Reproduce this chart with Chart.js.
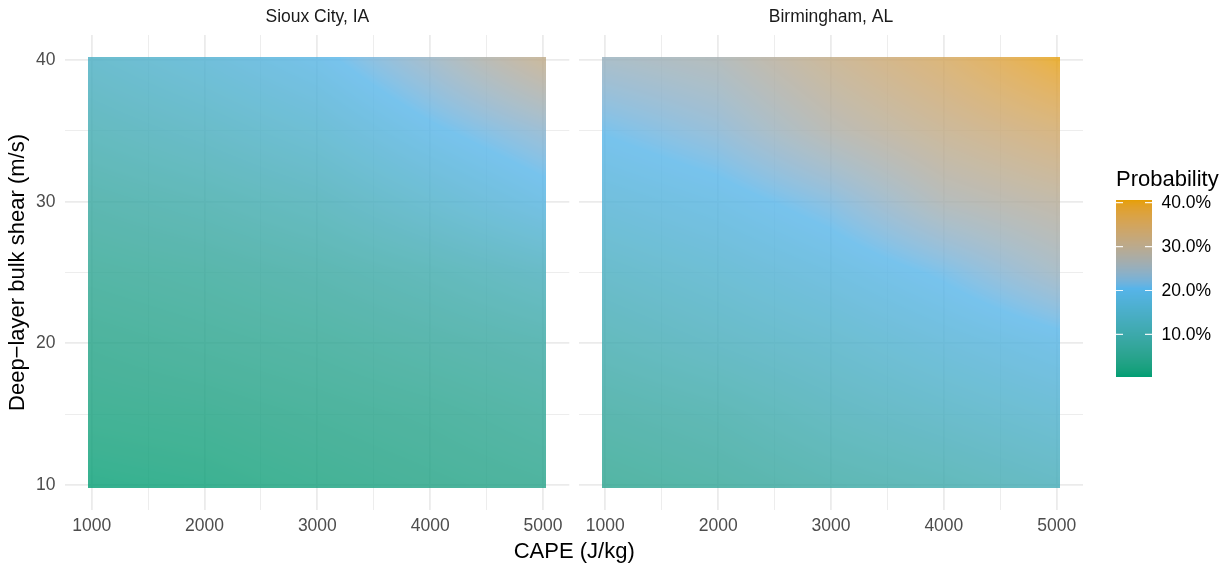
<!DOCTYPE html>
<html><head><meta charset="utf-8">
<script src="https://cdn.jsdelivr.net/npm/chart.js@4.4.1/dist/chart.umd.min.js"></script>
<style>
html,body{margin:0;padding:0;background:#fff;}
#wrap{position:relative;width:1232px;height:568px;overflow:hidden;}
#wrap canvas{position:absolute;left:0;top:0;}
</style></head><body>
<div id="wrap"><canvas id="c1" width="1232" height="568"></canvas><canvas id="c2" width="1232" height="568"></canvas></div>
<script>
// ---------------- data ----------------
const panelTitles = ['Sioux City, IA', 'Birmingham, AL'];
const capeValues = [1000, 2000, 3000, 4000, 5000];          // columns
const shearValues = [40, 35, 30, 25, 20, 15, 10];           // rows (top to bottom)
// probability (%) at each (shear row, CAPE column)
const siouxCityProb = [
  [14.0, 16.5, 19.5, 24.5, 30.5],
  [11.0, 13.0, 15.5, 19.8, 23.5],
  [ 8.0,  9.5, 11.5, 15.0, 18.8],
  [ 5.5,  6.5,  8.0, 10.0, 12.5],
  [ 3.5,  4.5,  5.5,  7.0,  8.5],
  [ 2.0,  2.5,  3.5,  4.5,  6.0],
  [ 0.5,  1.0,  2.0,  3.0,  4.0]
];
const birminghamProb = [
  [25.0, 26.5, 31.0, 35.0, 40.3],
  [20.7, 23.0, 27.5, 31.0, 34.0],
  [17.0, 19.0, 22.0, 26.8, 29.0],
  [13.5, 15.5, 18.0, 21.0, 25.0],
  [10.5, 12.5, 14.5, 17.0, 19.3],
  [ 7.5,  9.0, 11.5, 13.5, 15.5],
  [ 5.0,  6.5,  8.5, 10.0, 12.0]
];
const rasterCapeExtent = [970, 5030];
const rasterShearExtent = [9.75, 40.25];
const xLimits = [767, 5233];
const yLimits = [8.225, 41.775];
const xTickLabels = [1000, 2000, 3000, 4000, 5000];
const xGridValues = [1000, 1500, 2000, 2500, 3000, 3500, 4000, 4500, 5000];
const yTickLabels = [10, 20, 30, 40];
const yGridValues = [10, 15, 20, 25, 30, 35, 40];
const legendBreaks = [10, 20, 30, 40];
const colourLimits = [0.3, 40.6];
const paletteColours = ['#009E73', '#56B4E9', '#E69F00'];

// ---------------- colour scale (Lab interpolation) ----------------
function hexToRgb(h){return [parseInt(h.slice(1,3),16),parseInt(h.slice(3,5),16),parseInt(h.slice(5,7),16)];}
function s2l(c){c/=255;return c<=0.04045?c/12.92:Math.pow((c+0.055)/1.055,2.4);}
function l2s(c){c=c<=0.0031308?12.92*c:1.055*Math.pow(Math.max(c,0),1/2.4)-0.055;return Math.max(0,Math.min(255,Math.round(c*255)));}
const Xn=0.95047,Yn=1,Zn=1.08883;
function ff(t){return t>0.008856?Math.cbrt(t):7.787*t+16/116;}
function fi(t){return t>0.206893?t*t*t:(t-16/116)/7.787;}
function rgbToLab(rgb){const [r,g,b]=rgb.map(s2l);const X=0.4124*r+0.3576*g+0.1805*b,Y=0.2126*r+0.7152*g+0.0722*b,Z=0.0193*r+0.1192*g+0.9505*b;const fx=ff(X/Xn),fy=ff(Y/Yn),fz=ff(Z/Zn);return [116*fy-16,500*(fx-fy),200*(fy-fz)];}
function labToRgb(lab){const fy=(lab[0]+16)/116,fx=fy+lab[1]/500,fz=fy-lab[2]/200;const X=Xn*fi(fx),Y=Yn*fi(fy),Z=Zn*fi(fz);return [l2s(3.2406*X-1.5372*Y-0.4986*Z),l2s(-0.9689*X+1.8758*Y+0.0415*Z),l2s(0.0557*X-0.2040*Y+1.0570*Z)];}
const labStops = paletteColours.map(h=>rgbToLab(hexToRgb(h)));
const LUTN = 1024;
const lut = [];
for (let i=0;i<LUTN;i++){
  const t=i/(LUTN-1); const seg=(labStops.length-1)*t; const k=Math.min(Math.floor(seg),labStops.length-2); const w=seg-k;
  const a=labStops[k], b=labStops[k+1];
  lut.push(labToRgb([a[0]+(b[0]-a[0])*w,a[1]+(b[1]-a[1])*w,a[2]+(b[2]-a[2])*w]));
}
function colourFor(v){
  let t=(v-colourLimits[0])/(colourLimits[1]-colourLimits[0]); t=Math.max(0,Math.min(1,t));
  return lut[Math.round(t*(LUTN-1))];
}
function fracIndex(arr, v){
  const n=arr.length; const f=(v-arr[0])/(arr[1]-arr[0]);
  return Math.max(0,Math.min(n-1,f));
}

// ---------------- plugins ----------------
const FONT = "'Liberation Sans', Arial, Helvetica, sans-serif";
Chart.defaults.font.family = FONT;

const rasterPlugin = {
  id: 'raster',
  beforeDatasetsDraw(chart){
    const xs=chart.scales.x, ys=chart.scales.y;
    const m = chart.config.options.plugins.raster.matrix;
    const L=Math.round(xs.getPixelForValue(rasterCapeExtent[0])), R=Math.round(xs.getPixelForValue(rasterCapeExtent[1]));
    const T=Math.round(ys.getPixelForValue(rasterShearExtent[1])), B=Math.round(ys.getPixelForValue(rasterShearExtent[0]));
    const W=R-L, H=B-T;
    const off=document.createElement('canvas'); off.width=W; off.height=H;
    const octx=off.getContext('2d'); const img=octx.createImageData(W,H);
    const nr=shearValues.length, nc=capeValues.length;
    const colF=[]; for(let px=0;px<W;px++){colF.push(fracIndex(capeValues, xs.getValueForPixel(L+px+0.5)));}
    for(let py=0;py<H;py++){
      const rf=fracIndex(shearValues, ys.getValueForPixel(T+py+0.5));
      const r0=Math.floor(rf), r1=Math.min(r0+1,nr-1), wr=rf-r0;
      for(let px=0;px<W;px++){
        const cf=colF[px]; const c0=Math.floor(cf), c1=Math.min(c0+1,nc-1), wc=cf-c0;
        const v=(m[r0][c0]*(1-wc)+m[r0][c1]*wc)*(1-wr)+(m[r1][c0]*(1-wc)+m[r1][c1]*wc)*wr;
        const c=colourFor(v); const o=(py*W+px)*4;
        img.data[o]=c[0]; img.data[o+1]=c[1]; img.data[o+2]=c[2]; img.data[o+3]=255;
      }
    }
    octx.putImageData(img,0,0);
    const ctx=chart.ctx; ctx.save(); ctx.globalAlpha=0.8; ctx.drawImage(off,L,T); ctx.restore();
  }
};

const stripPlugin = {
  id: 'strip',
  afterDraw(chart){
    const o=chart.config.options.plugins.strip; const ca=chart.chartArea; const ctx=chart.ctx;
    ctx.save(); ctx.font="17.5px "+FONT; ctx.fillStyle='#1A1A1A'; ctx.textAlign='center'; ctx.textBaseline='middle';
    ctx.fillText(o.text,(ca.left+ca.right)/2,17.5); ctx.restore();
  }
};

const sharedPlugin = {
  id: 'shared',
  afterDraw(chart){
    const o=chart.config.options.plugins.shared; if(!o.enabled) return;
    const ctx=chart.ctx; const left=window.chartA.chartArea.left, right=chart.chartArea.right;
    ctx.save();
    // x-axis title
    ctx.font="22px "+FONT; ctx.fillStyle='#000'; ctx.textAlign='center'; ctx.textBaseline='middle';
    ctx.fillText('CAPE (J/kg)',(left+right)/2,552);
    // colour bar legend
    const bl=1116, br=1152, bt=200, bb=377;
    const lo=colourLimits[0], hi=colourLimits[1];
    for(let y=bt;y<bb;y++){
      const v=hi-(y+0.5-bt)/(bb-bt)*(hi-lo); const c=colourFor(v);
      ctx.fillStyle='rgb('+c[0]+','+c[1]+','+c[2]+')'; ctx.fillRect(bl,y,br-bl,1);
    }
    ctx.strokeStyle='rgba(255,255,255,0.9)'; ctx.lineWidth=1.2;
    ctx.font="17.5px "+FONT; ctx.fillStyle='#000'; ctx.textAlign='left';
    legendBreaks.forEach(b=>{
      const y=bb-(b-lo)/(hi-lo)*(bb-bt);
      ctx.beginPath(); ctx.moveTo(bl,y); ctx.lineTo(bl+7,y); ctx.moveTo(br-7,y); ctx.lineTo(br,y); ctx.stroke();
      ctx.fillText(b.toFixed(1)+'%',1161.5,y+0.5);
    });
    ctx.font="22px "+FONT; ctx.fillText('Probability',1116,180);
    ctx.restore();
  }
};

function makeChart(id, idx, matrix, isLeft){
  const pts=[];
  shearValues.forEach((s,r)=>capeValues.forEach((c,k)=>pts.push({x:c,y:s,v:matrix[r][k]})));
  const gridCol = '#EBEBEB';
  return new Chart(document.getElementById(id), {
    type:'scatter',
    data:{datasets:[{label:panelTitles[idx],data:pts,pointRadius:0,pointHoverRadius:0}]},
    options:{
      responsive:false, animation:false, devicePixelRatio:1,
      events:[],
      layout:{padding:{left:0,top:35,bottom:0,right:isLeft?1232-569.3:1232-1083}},
      plugins:{legend:{display:false},tooltip:{enabled:false},title:{display:false},
        raster:{matrix:matrix}, strip:{text:panelTitles[idx]}, shared:{enabled:!isLeft}},
      scales:{
        x:{type:'linear',min:xLimits[0],max:xLimits[1],
          afterBuildTicks:s=>{s.ticks=xGridValues.map(v=>({value:v}));},
          afterFit:s=>{s.height=58;},
          border:{display:false},
          grid:{drawTicks:false,color:gridCol,lineWidth:c=>(xTickLabels.includes(c.tick&&c.tick.value)?1.8:0.9)},
          ticks:{autoSkip:false,maxRotation:0,minRotation:0,padding:6,color:'#4D4D4D',font:{size:17.5},
            callback:v=>xTickLabels.includes(v)?String(v):''}},
        y:{type:'linear',min:yLimits[0],max:yLimits[1],
          afterBuildTicks:s=>{s.ticks=yGridValues.map(v=>({value:v}));},
          afterFit:s=>{s.width=isLeft?65.4:579;},
          border:{display:false},
          grid:{drawTicks:false,color:gridCol,lineWidth:c=>(yTickLabels.includes(c.tick&&c.tick.value)?1.8:0.9)},
          title:{display:isLeft,text:'Deep\u2212layer bulk shear (m/s)',color:'#000',font:{size:22},padding:{top:4.5,bottom:0}},
          ticks:{autoSkip:false,padding:10,color:'#4D4D4D',font:{size:17.5},
            callback:v=>(isLeft&&yTickLabels.includes(v))?String(v):''}}
      }
    },
    plugins:[rasterPlugin,stripPlugin,sharedPlugin]
  });
}
window.chartA = makeChart('c1',0,siouxCityProb,true);
window.chartB = makeChart('c2',1,birminghamProb,false);
</script>
</body></html>
